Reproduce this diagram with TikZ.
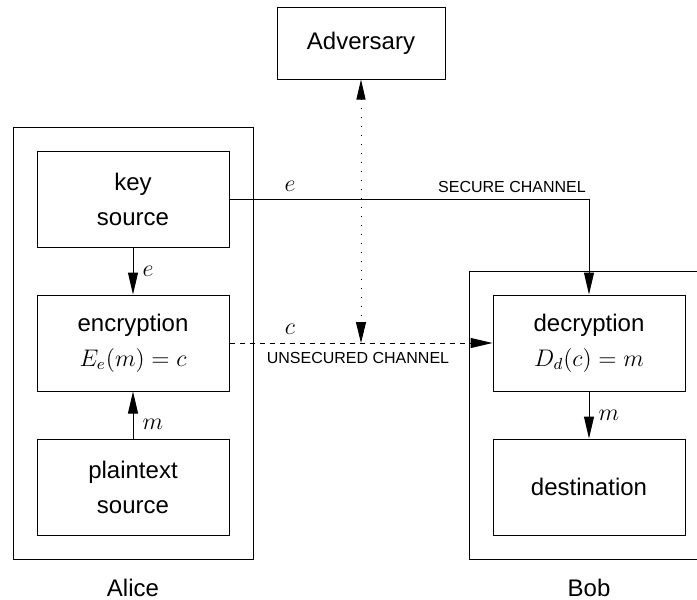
\documentclass[tikz,border=0pt]{standalone}
\usepackage{fontspec}
\setmainfont{Liberation Sans}
\usetikzlibrary{arrows.meta}
\begin{document}
\begin{tikzpicture}[x=0.5pt,y=-0.5pt,
  every node/.style={font=\fontsize{12}{17.5}\selectfont},
  blk/.style={draw,line width=0.5pt,minimum width=96pt,minimum height=48pt,inner sep=0pt,align=center},
  outer/.style={draw,line width=0.5pt},
  conn/.style={line width=0.5pt,-{Triangle[length=11pt,width=5pt]}},
  chan/.style={font=\fontsize{8}{9}\selectfont},
  lbl/.style={inner sep=2pt,xshift=2.5pt}
]
\clip (0,0) rectangle (697,600);
\fill[white] (0,0) rectangle (697,600);
% outer boxes
\draw[outer] (13,127) rectangle (253,559);
\draw[outer] (469,271) rectangle (740,559);
% blocks
\node[blk] (key) at (133,199) {key\\source};
\node[blk] (enc) at (133,343) {encryption\\$E_e(m)=c$};
\node[blk] (pln) at (133,487) {plaintext\\source};
\node[blk] (dec) at (589,343) {decryption\\$D_d(c)=m$};
\node[blk] (dst) at (589,487) {destination};
\node[blk,minimum width=84pt,minimum height=36pt] (adv) at (361,43) {Adversary};
% captions
\node (alice) at (133,588) {Alice};
\node (bob) at (589,588) {Bob};
% arrows in Alice and Bob
\draw[conn] (key) -- node[lbl,right] {$e$} (enc);
\draw[conn] (pln) -- node[lbl,right,pos=0.3] {$m$} (enc);
\draw[conn] (dec) -- node[lbl,right] {$m$} (dst);
% secure channel
\draw[conn] (key.east) -| (dec.north);
\node (le) at (290,186) {$e$};
\node[chan] (sc) at (512,187) {SECURE CHANNEL};
% unsecured channel
\draw[conn,dash pattern=on 2.5pt off 2.5pt] (enc.east) -- (dec.west);
\node (lc) at (290,329) {$c$};
\node[chan] (uc) at (358,358) {UNSECURED CHANNEL};
% adversary eavesdropping
\coordinate (tap) at (361,343);
\draw[line width=0.5pt,dash pattern=on 0.5pt off 4pt,
  {Triangle[length=10pt,width=4.5pt]}-{Triangle[length=10.5pt,width=5pt]}] (adv.south) -- (tap);
\end{tikzpicture}
\end{document}
